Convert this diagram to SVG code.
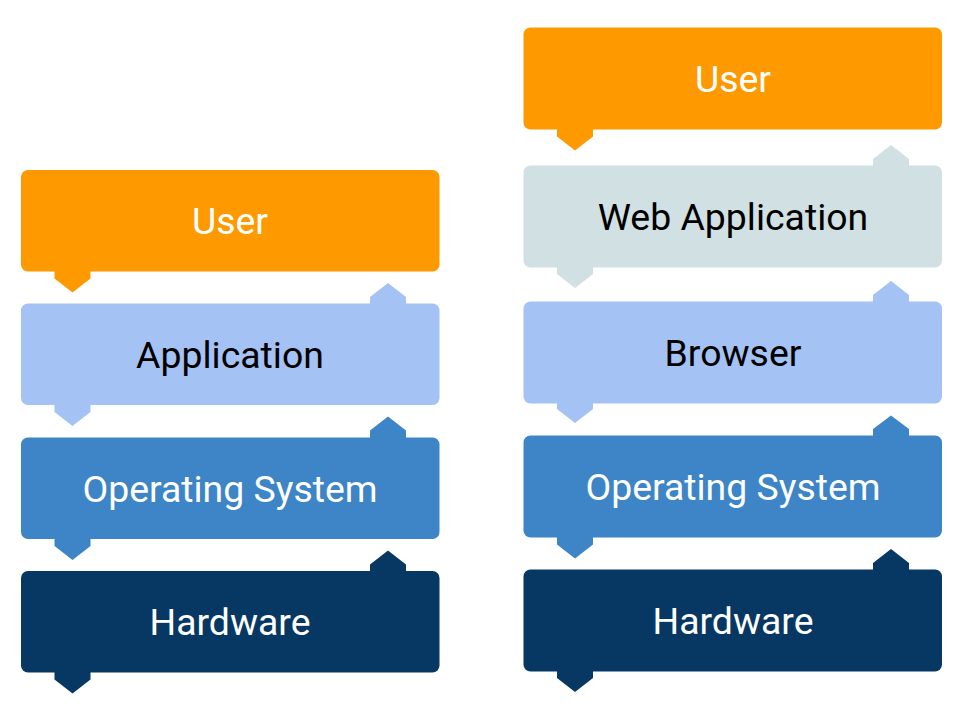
<svg xmlns="http://www.w3.org/2000/svg" width="960" height="720" viewBox="0 0 960 720">
<style>
.lbl{font-family:Roboto,"Liberation Sans",sans-serif;font-size:37.4px;text-anchor:middle}
.w{fill:#ffffff}
.k{fill:#000000}
.orange{fill:#ff9900}
.cyan{fill:#d0e0e3}
.lblue{fill:#a4c2f4}
.blue{fill:#3d85c6}
.navy{fill:#073763}
</style>
<rect width="960" height="720" fill="#ffffff"/>
<g id="connectors">
  <!-- left column tabs -->
  <polygon class="orange" points="54.5,269 90.5,269 90.5,278.5 72.5,292.5 54.5,278.5"/>
  <polygon class="lblue" points="370,305.5 370,297 388,283 406,297 406,305.5"/>
  <polygon class="lblue" points="54.5,403 90.5,403 90.5,412 72.5,426 54.5,412"/>
  <polygon class="blue" points="370,439 370,430.5 388,416.5 406,430.5 406,439"/>
  <polygon class="blue" points="54.5,537 90.5,537 90.5,546 72.5,560 54.5,546"/>
  <polygon class="navy" points="370,573 370,564.5 388,550.5 406,564.5 406,573"/>
  <polygon class="navy" points="54.5,670.5 90.5,670.5 90.5,679.5 72.5,693.5 54.5,679.5"/>
  <!-- right column tabs -->
  <polygon class="orange" points="557,127.5 593,127.5 593,136.5 575,150.5 557,136.5"/>
  <polygon class="cyan" points="873,167.5 873,159 891,145 909,159 909,167.5"/>
  <polygon class="cyan" points="557,265.5 593,265.5 593,274 575,288 557,274"/>
  <polygon class="lblue" points="873,303.5 873,295 891,281 909,295 909,303.5"/>
  <polygon class="lblue" points="557,401.5 593,401.5 593,409 575,423 557,409"/>
  <polygon class="blue" points="873,437.5 873,429 891,415.5 909,429 909,437.5"/>
  <polygon class="blue" points="557,535.5 593,535.5 593,544.5 575,558.5 557,544.5"/>
  <polygon class="navy" points="873,571.5 873,563 891,549 909,563 909,571.5"/>
  <polygon class="navy" points="557,669.5 593,669.5 593,678 575,692 557,678"/>
</g>
<g id="left-user">
  <rect class="orange" x="21" y="170" width="418.5" height="101.5" rx="7"/>
  <text class="lbl w" x="230" y="234">User</text>
</g>
<g id="left-application">
  <rect class="lblue" x="21" y="303.5" width="418.5" height="101.5" rx="7"/>
  <text class="lbl k" x="230" y="367.5">Application</text>
</g>
<g id="left-os">
  <rect class="blue" x="21" y="437.5" width="418.5" height="101.5" rx="7"/>
  <text class="lbl w" x="230" y="501.5">Operating System</text>
</g>
<g id="left-hardware">
  <rect class="navy" x="21" y="571" width="418.5" height="101.5" rx="7"/>
  <text class="lbl w" x="230" y="635">Hardware</text>
</g>
<g id="right-user">
  <rect class="orange" x="523.5" y="27.5" width="418.5" height="102" rx="7"/>
  <text class="lbl w" x="733" y="91.5">User</text>
</g>
<g id="right-webapp">
  <rect class="cyan" x="523.5" y="165.5" width="418.5" height="102" rx="7"/>
  <text class="lbl k" x="733" y="229.5">Web Application</text>
</g>
<g id="right-browser">
  <rect class="lblue" x="523.5" y="301.5" width="418.5" height="102" rx="7"/>
  <text class="lbl k" x="733" y="365.5">Browser</text>
</g>
<g id="right-os">
  <rect class="blue" x="523.5" y="435.5" width="418.5" height="102" rx="7"/>
  <text class="lbl w" x="733" y="499.5">Operating System</text>
</g>
<g id="right-hardware">
  <rect class="navy" x="523.5" y="569.5" width="418.5" height="102" rx="7"/>
  <text class="lbl w" x="733" y="633.5">Hardware</text>
</g>
</svg>
